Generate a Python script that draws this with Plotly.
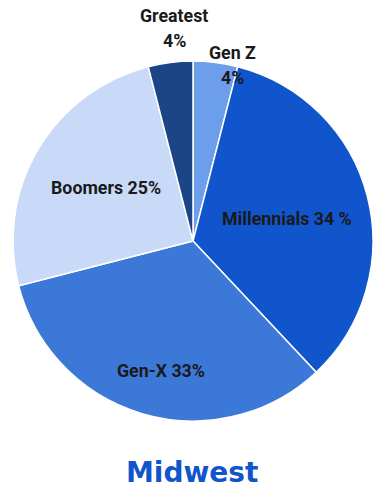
import plotly.graph_objects as go

# Generation shares, Midwest
labels = ["Gen Z", "Millennials", "Gen-X", "Boomers", "Greatest"]
values = [4, 34, 33, 25, 4]
colors = ["#6d9eeb", "#1155cc", "#3c78d8", "#c9daf8", "#1c4587"]

W, H = 373, 492
cx, cy, r = 193, 241, 180

fig = go.Figure(go.Pie(
    labels=labels,
    values=values,
    sort=False,
    direction="clockwise",
    rotation=0,
    marker=dict(colors=colors, line=dict(color="white", width=1.5)),
    textinfo="none",
    hoverinfo="label+percent",
    showlegend=False,
    domain=dict(x=[(cx - r) / W, min(1, (cx + r) / W)],
                y=[1 - (cy + r) / H, 1 - (cy - r) / H]),
))

share = dict(zip(labels, values))
lab_font = dict(family="Roboto", size=17.8, color="#1a1a1a")

# (text, x px, y px)
label_spots = [
    ("<b>Greatest</b>", 174, 15),
    (f"<b>{share['Greatest']}%</b>", 174, 40),
    ("<b>Gen Z</b>", 232, 52),
    (f"<b>{share['Gen Z']}%</b>", 232, 77),
    (f"<b>Millennials {share['Millennials']} %</b>", 287, 218),
    (f"<b>Boomers {share['Boomers']}%</b>", 106, 187),
    (f"<b>Gen-X {share['Gen-X']}%</b>", 161, 370),
]

annotations = [
    dict(text=t, x=x / W, y=1 - y / H, xref="paper", yref="paper",
         showarrow=False, xanchor="center", yanchor="middle", font=lab_font)
    for t, x, y in label_spots
]
annotations.append(dict(
    text="<b>Midwest</b>", x=192 / W, y=1 - 472 / H, xref="paper", yref="paper",
    showarrow=False, xanchor="center", yanchor="middle",
    font=dict(family="DejaVu Sans", size=28, color="#1155cc"),
))

fig.update_layout(
    width=W, height=H,
    margin=dict(l=0, r=0, t=0, b=0),
    paper_bgcolor="white",
    plot_bgcolor="white",
    annotations=annotations,
)

fig.write_html("out.html")
